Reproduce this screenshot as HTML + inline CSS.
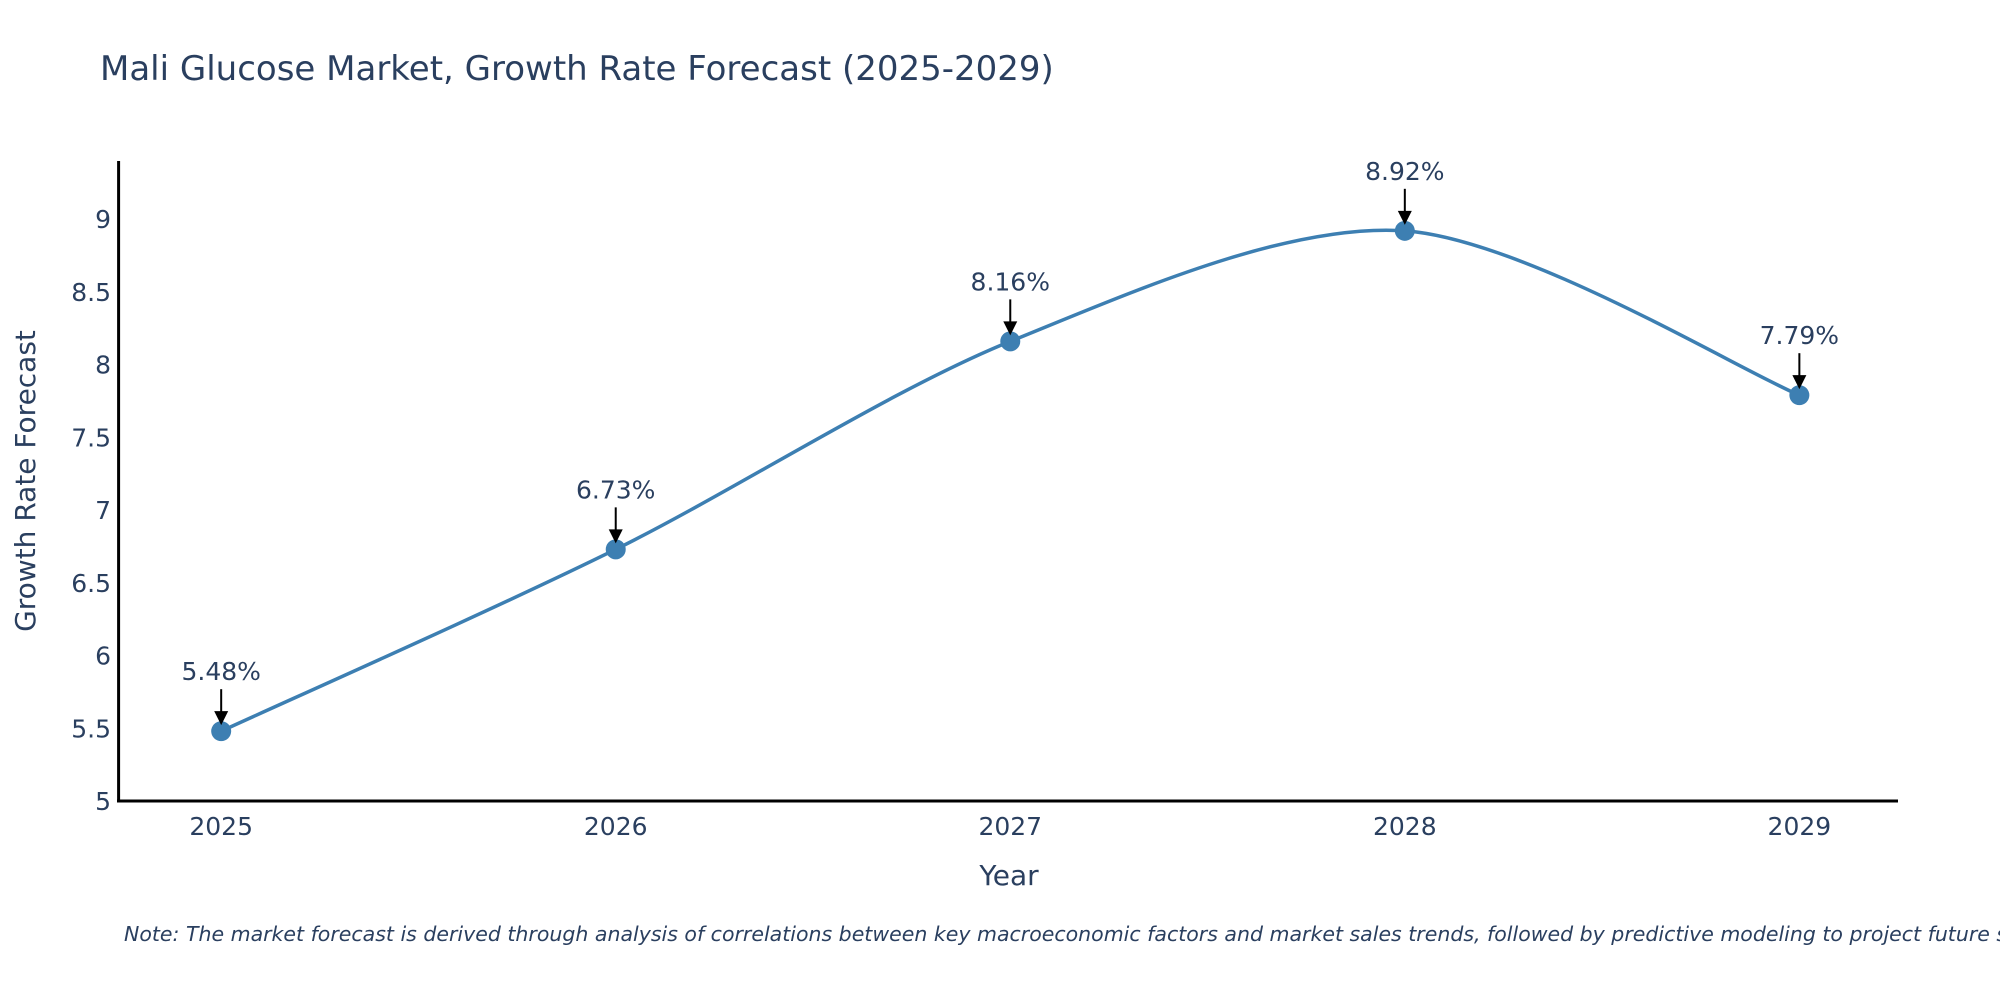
<!DOCTYPE html>
<html><head><meta charset="utf-8"><style>
body{margin:0;background:#fff;}
svg text{font-family:"DejaVu Sans","Liberation Sans",sans-serif;fill:#2a3f5f;}
</style></head><body>
<svg id="chart" width="2000" height="1000" viewBox="0 0 2000 1000" xmlns="http://www.w3.org/2000/svg">
<text x="100" y="80" font-size="34">Mali Glucose Market, Growth Rate Forecast (2025-2029)</text>
<g id="yticks"></g><g id="xticks"></g>
<line x1="118.6" y1="161" x2="118.6" y2="802" stroke="#000" stroke-width="3"/>
<line x1="117" y1="801" x2="1898" y2="801" stroke="#000" stroke-width="3"/>
<path id="line" fill="none" stroke="#3d7fb2" stroke-width="3.5"/>
<g id="marks"></g>
<text x="1009" y="885" font-size="28" text-anchor="middle">Year</text>
<text transform="translate(35,481) rotate(-90)" font-size="28" text-anchor="middle">Growth Rate Forecast</text>
<text x="124" y="941" font-size="20.5" font-style="italic">Note: The market forecast is derived through analysis of correlations between key macroeconomic factors and market sales trends, followed by predictive modeling to project future sales.</text>
</svg>
<script>
const years=[2025,2026,2027,2028,2029];
const values=[5.48,6.73,8.16,8.92,7.79];
const labels=["5.48%","6.73%","8.16%","8.92%","7.79%"];
const yTicks=[5,5.5,6,6.5,7,7.5,8,8.5,9];
const NS="http://www.w3.org/2000/svg";
const x=v=>118.6+(v-2024.74)/(2029.25-2024.74)*(1898-118.6);
const y=v=>801-(v-5)/(9.40-5)*(801-161);
function mk(t,a,p){const e=document.createElementNS(NS,t);for(const k in a)e.setAttribute(k,a[k]);p.appendChild(e);return e;}
const yt=document.getElementById('yticks');
yTicks.forEach(t=>{const e=mk('text',{x:111,y:y(t)+9,'font-size':25,'text-anchor':'end'},yt);


e.textContent=t;});
const xt=document.getElementById('xticks');
years.forEach(t=>{const e=mk('text',{x:x(t),y:835,'font-size':25,'text-anchor':'middle'},xt);


e.textContent=t;});
const P=years.map((t,i)=>[x(t),y(values[i])]);
let d=`M${P[0][0]},${P[0][1]}`;const s=0.15;
for(let i=0;i<P.length-1;i++){const p0=P[i-1]||P[i],p1=P[i],p2=P[i+1],p3=P[i+2]||P[i+1];
d+=` C${p1[0]+(p2[0]-p0[0])*s},${p1[1]+(p2[1]-p0[1])*s} ${p2[0]-(p3[0]-p1[0])*s},${p2[1]-(p3[1]-p1[1])*s} ${p2[0]},${p2[1]}`;}
document.getElementById('line').setAttribute('d',d);
const g=document.getElementById('marks');
P.forEach((p,i)=>{
const c=mk('circle',{cx:p[0],cy:p[1],r:10,fill:'#3d7fb2'},g);


const a=mk('line',{x1:p[0],y1:p[1]-42,x2:p[0],y2:p[1]-18,stroke:'#000','stroke-width':2},g);


const h=mk('polygon',{points:`${p[0]-7},${p[1]-20} ${p[0]+7},${p[1]-20} ${p[0]},${p[1]-6}`,fill:'#000'},g);


const t=mk('text',{x:p[0],y:p[1]-51,'font-size':25,'text-anchor':'middle'},g);


t.textContent=labels[i];});
</script>
</body></html>
